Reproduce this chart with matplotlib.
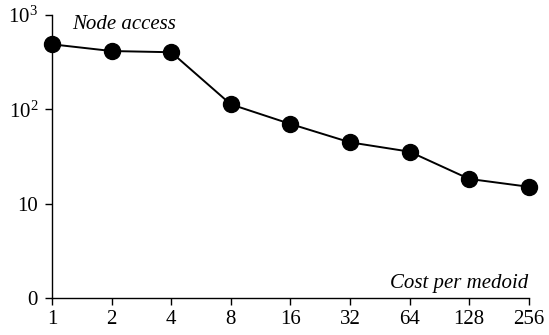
import matplotlib
matplotlib.use("Agg")
import matplotlib.pyplot as plt
from matplotlib.ticker import FixedLocator, FixedFormatter

plt.rcParams['font.family'] = ['Liberation Serif', 'DejaVu Serif']
plt.rcParams['mathtext.fontset'] = 'custom'
plt.rcParams['mathtext.rm'] = 'Liberation Serif'
plt.rcParams['mathtext.it'] = 'Liberation Serif:italic'

cost_per_medoid = ['1', '2', '4', '8', '16', '32', '64', '128', '256']
node_access = [489, 415, 403, 113, 70, 44.7, 35.6, 18.3, 15.1]
y_ticks = [1, 10, 100, 1000]
y_tick_labels = ['0', '10', '$10^2$', '$10^3$']

fig = plt.figure(figsize=(5.49, 3.35), dpi=100)
ax = fig.add_axes([52 / 549, 37 / 335, (528.7 - 52) / 549, 283 / 335])

x = list(range(len(cost_per_medoid)))
ax.plot(x, node_access, color='black', lw=1.4, marker='o', ms=11.5,
        clip_on=False, zorder=3)

ax.set_yscale('log')
ax.set_ylim(1, 1000)
ax.set_xlim(0, len(cost_per_medoid) - 1)
ax.yaxis.set_major_locator(FixedLocator(y_ticks))
ax.yaxis.set_major_formatter(FixedFormatter(y_tick_labels))
ax.yaxis.set_minor_locator(FixedLocator([]))
ax.set_xticks(x)
ax.set_xticklabels(cost_per_medoid)

for s in ['top', 'right']:
    ax.spines[s].set_visible(False)
for s in ['left', 'bottom']:
    ax.spines[s].set_linewidth(1.0)
ax.tick_params(axis='both', direction='out', length=5, width=1.0,
               labelsize=15, colors='black')
ax.tick_params(axis='x', pad=4)
ax.tick_params(axis='y', pad=5)

ax.text(0.042, 0.965, 'Node access', transform=ax.transAxes, style='italic',
        fontsize=15, ha='left', va='center')
ax.text(1.0, 0.05, 'Cost per medoid', transform=ax.transAxes, style='italic',
        fontsize=15, ha='right', va='center')

fig.savefig('out.png', dpi=100)
